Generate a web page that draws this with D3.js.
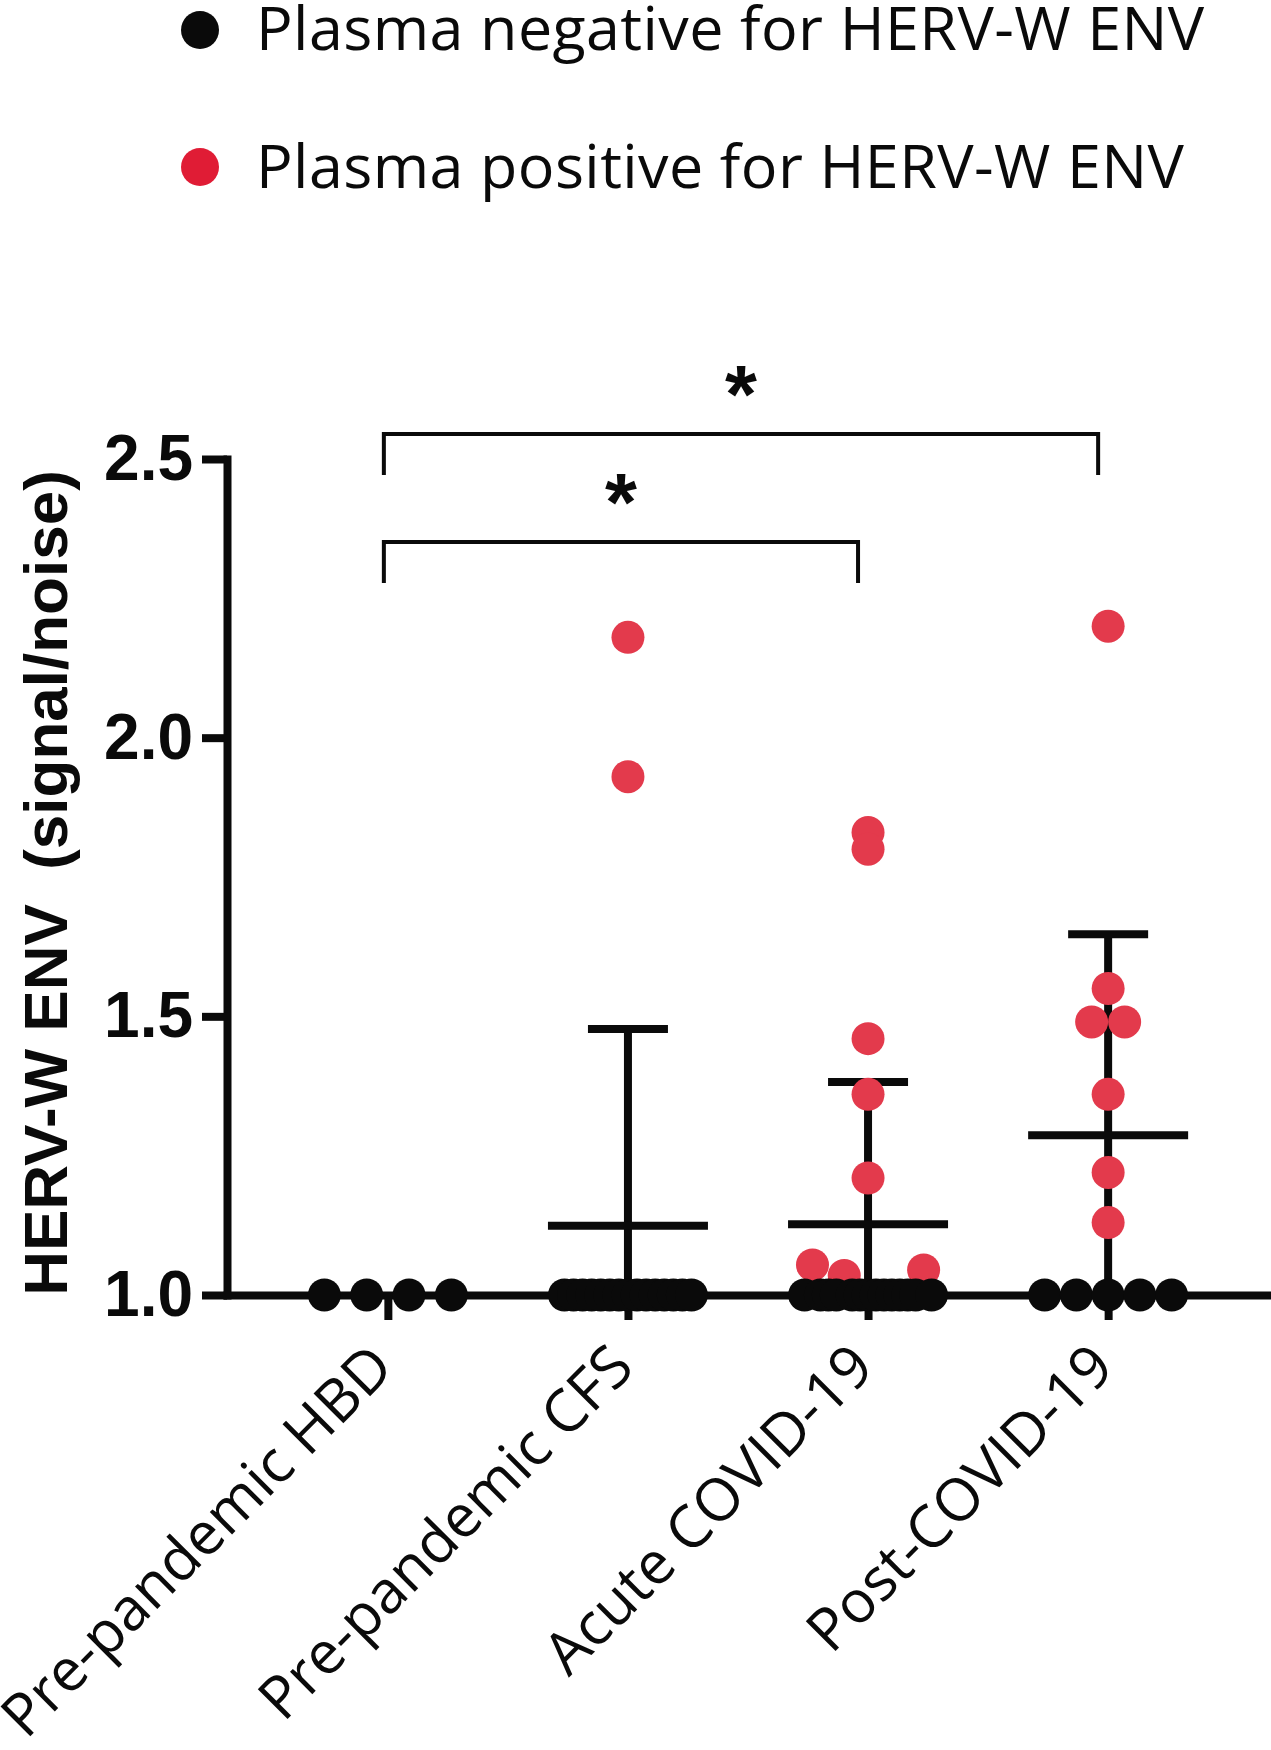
<!DOCTYPE html>
<html>
<head>
<meta charset="utf-8">
<script src="https://cdn.jsdelivr.net/npm/d3@7"></script>
<style>
  body { margin: 0; background: #fff; }
  svg { display: block; }
</style>
</head>
<body>
<svg id="chart" width="1271" height="1750"></svg>
<script>
const categories = ['Pre-pandemic HBD', 'Pre-pandemic CFS', 'Acute COVID-19', 'Post-COVID-19'];

// HERV-W ENV signal/noise for each plasma, in sample order (1.0 = negative)
const hbdValues = [1, 1, 1, 1];
const cfsValues = [1, 1, 1, 1, 1, 1, 1, 1, 1, 1, 1, 1, 1, 1, 1, 2.18, 1.93];
const acuteValues = [1, 1.054, 1, 1, 1, 1.035, 1, 1, 1, 1, 1, 1, 1, 1, 1, 1.045, 1,
  1.83, 1.80, 1.46, 1.36, 1.21];
const postValues = [1, 1, 1, 1, 1, 2.20, 1.55, 1.49, 1.49, 1.36, 1.22, 1.13];

const negativeLevel = 1.0;
const yTicks = [1.0, 1.5, 2.0, 2.5];
const legendLabels = ['Plasma negative for HERV-W ENV', 'Plasma positive for HERV-W ENV'];
const comparisons = [
  { from: 'Pre-pandemic HBD', to: 'Acute COVID-19', label: '*' },
  { from: 'Pre-pandemic HBD', to: 'Post-COVID-19', label: '*' },
];

const groups = [hbdValues, cfsValues, acuteValues, postValues];

const black = '#0a0a0a';
const red = '#e33a4c';
const legendRed = '#e01c35';
const dotR = 16.5;
const colWidth = 127; // spread of a crowded row of dots
const lineW = 8;

const svg = d3.select('#chart');

const x = d3.scalePoint()
  .domain(categories)
  .range([227, 1269])
  .padding(0.67);

const y = d3.scaleLinear()
  .domain([1.0, 2.5])
  .range([1295, 459]);

// value span of one dot height: points closer than this share a row
const rowSpan = (2 * dotR) / (y(1) - y(2));

function layout(values, cat) {
  const pts = values.map((v, i) => ({ v, i, cat }));
  const sorted = pts.slice().sort((a, b) => a.v - b.v || a.i - b.i);
  const rows = [];
  sorted.forEach((p) => {
    const row = rows[rows.length - 1];
    if (row && p.v - row[0].v < rowSpan) row.push(p);
    else rows.push([p]);
  });
  rows.forEach((row) => {
    row.sort((a, b) => a.i - b.i);
    const k = row.length;
    if (k >= 4) {
      const step = colWidth / (k - 1);
      row.forEach((p, j) => { p.dx = (j - (k - 1) / 2) * step; });
    } else {
      // ties side by side, near-ties stay on the column centre
      d3.group(row, p => p.v).forEach((t) => {
        t.forEach((p, j) => { p.dx = (j - (t.length - 1) / 2) * dotR * 2; });
      });
    }
  });
  return pts;
}

const points = groups.flatMap((vals, gi) => layout(vals, categories[gi]));
const stats = groups.map((vals, gi) => ({
  cat: categories[gi],
  mean: d3.mean(vals),
  sd: d3.deviation(vals) || 0,
}));

// legend
const legend = svg.append('g');
legend.selectAll('circle')
  .data(legendLabels)
  .join('circle')
  .attr('cx', 200)
  .attr('cy', (d, i) => 30 + i * 137)
  .attr('r', 19)
  .attr('fill', (d, i) => (i === 0 ? black : legendRed));
legend.selectAll('text')
  .data(legendLabels)
  .join('text')
  .attr('x', 256)
  .attr('y', (d, i) => 50 + i * 138)
  .attr('font-family', '"Open Sans", sans-serif')
  .attr('font-size', 61)
  .attr('letter-spacing', 0.4)
  .attr('fill', black)
  .text(d => d);

// axes
const yAxis = svg.append('g')
  .attr('transform', `translate(${x.range()[0]},0)`)
  .call(d3.axisLeft(y).tickValues(yTicks).tickFormat(d3.format('.1f'))
    .tickSize(25).tickSizeOuter(0).tickPadding(9));

const xAxis = svg.append('g')
  .attr('transform', `translate(0,${y(1)})`)
  .call(d3.axisBottom(x).tickSize(25).tickSizeOuter(0));

[yAxis, xAxis].forEach((g) => {
  g.select('.domain').attr('stroke', black).attr('stroke-width', lineW)
    .attr('stroke-linecap', 'square');
  g.selectAll('.tick line').attr('stroke', black).attr('stroke-width', lineW);
});

yAxis.selectAll('.tick text')
  .attr('font-family', '"Liberation Sans", Arial, sans-serif')
  .attr('font-weight', 'bold')
  .attr('font-size', 64)
  .attr('fill', black);

xAxis.selectAll('.tick text')
  .attr('x', 0)
  .attr('y', 0)
  .attr('dy', null)
  .attr('transform', 'translate(8,75) rotate(-45)')
  .attr('text-anchor', 'end')
  .attr('font-family', '"Open Sans", sans-serif')
  .attr('font-size', 59)
  .attr('fill', black);

// y title
svg.append('text')
  .attr('transform', `translate(67,${(y(1) + y(2.5)) / 2 + 6}) rotate(-90)`)
  .attr('text-anchor', 'middle')
  .attr('font-family', '"Liberation Sans", Arial, sans-serif')
  .attr('font-weight', 'bold')
  .attr('font-size', 62)
  .attr('fill', black)
  .style('white-space', 'pre')
  .text('HERV-W ENV  (signal/noise)');

// mean and SD bars
const bars = svg.append('g').attr('stroke', black).attr('stroke-width', lineW);
stats.filter(s => s.sd > 0).forEach((s) => {
  const cx = x(s.cat);
  bars.append('line')
    .attr('x1', cx).attr('x2', cx)
    .attr('y1', y(Math.max(negativeLevel, s.mean - s.sd)))
    .attr('y2', y(s.mean + s.sd));
  bars.append('line')
    .attr('x1', cx - 40).attr('x2', cx + 40)
    .attr('y1', y(s.mean + s.sd)).attr('y2', y(s.mean + s.sd));
  bars.append('line')
    .attr('x1', cx - 80).attr('x2', cx + 80)
    .attr('y1', y(s.mean)).attr('y2', y(s.mean));
});

// dots: positives first, negatives on top
const ordered = points.filter(p => p.v > negativeLevel)
  .concat(points.filter(p => p.v <= negativeLevel));
svg.append('g')
  .selectAll('circle')
  .data(ordered)
  .join('circle')
  .attr('cx', d => x(d.cat) + d.dx)
  .attr('cy', d => y(d.v))
  .attr('r', dotR)
  .attr('fill', d => (d.v > negativeLevel ? red : black));

// significance brackets
const brackets = svg.append('g');
comparisons.forEach((c, i) => {
  const by = 542 - i * 108;
  const x1 = x(c.from) - 4;
  const x2 = x(c.to) - 10;
  brackets.append('path')
    .attr('d', `M${x1},${by + 41}V${by}H${x2}V${by + 41}`)
    .attr('fill', 'none')
    .attr('stroke', black)
    .attr('stroke-width', 4);
  brackets.append('text')
    .attr('x', (x1 + x2) / 2)
    .attr('y', by - 58 + 0.555 * 82)
    .attr('text-anchor', 'middle')
    .attr('font-family', '"Liberation Sans", Arial, sans-serif')
    .attr('font-weight', 'bold')
    .attr('font-size', 82)
    .attr('fill', black)
    .text(c.label);
});
</script>
</body>
</html>
